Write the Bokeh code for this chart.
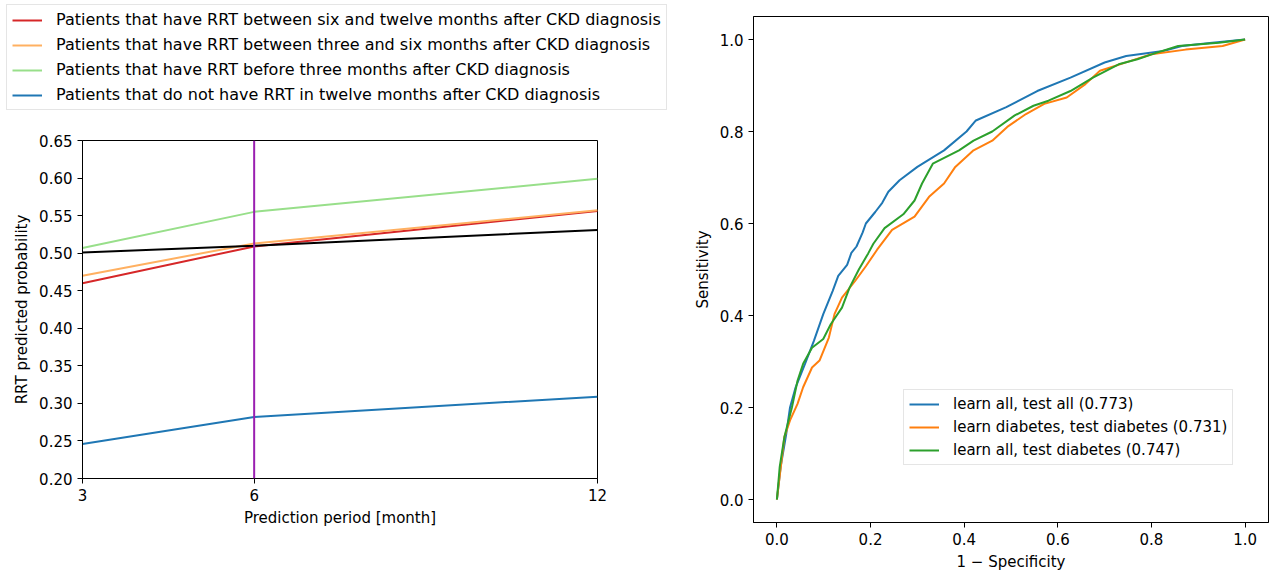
from bokeh.plotting import figure
from bokeh.layouts import row, column
from bokeh.models import Legend, LegendItem, FixedTicker, Span, Range1d, CustomJSTickFormatter
from bokeh.embed import file_html
from bokeh.resources import INLINE

# ---------------- data: left panel ----------------
months = [3, 6, 12]
rrt_6_12 = [0.460, 0.509, 0.556]
rrt_3_6 = [0.470, 0.513, 0.557]
rrt_0_3 = [0.507, 0.555, 0.599]
no_rrt = [0.246, 0.282, 0.309]
threshold = [0.501, 0.510, 0.531]
highlight_month = 6
left_series_labels = [
    "Patients that have RRT between six and twelve months after CKD diagnosis",
    "Patients that have RRT between three and six months after CKD diagnosis",
    "Patients that have RRT before three months after CKD diagnosis",
    "Patients that do not have RRT in twelve months after CKD diagnosis",
]
left_yticks = [0.20, 0.25, 0.30, 0.35, 0.40, 0.45, 0.50, 0.55, 0.60, 0.65]

# ---------------- data: right panel (ROC) ----------------
fpr_all_all = [0, 0.008, 0.02, 0.028, 0.04, 0.06, 0.079, 0.099, 0.119, 0.131, 0.15, 0.159, 0.17,
               0.183, 0.19, 0.21, 0.225, 0.238, 0.262, 0.30, 0.357, 0.405, 0.425, 0.49, 0.556,
               0.627, 0.70, 0.746, 0.825, 0.865, 0.93, 1.0]
tpr_all_all = [0, 0.071, 0.143, 0.2, 0.244, 0.295, 0.345, 0.403, 0.453, 0.486, 0.51, 0.536, 0.55,
               0.58, 0.6, 0.625, 0.645, 0.669, 0.694, 0.723, 0.759, 0.8, 0.824, 0.853, 0.888,
               0.917, 0.95, 0.964, 0.975, 0.986, 0.993, 1.0]
fpr_dia_dia = [0, 0.016, 0.028, 0.044, 0.056, 0.075, 0.091, 0.111, 0.123, 0.139, 0.167, 0.19,
               0.214, 0.246, 0.294, 0.325, 0.357, 0.381, 0.42, 0.46, 0.492, 0.532, 0.571, 0.619,
               0.659, 0.69, 0.754, 0.80, 0.873, 0.952, 1.0]
tpr_dia_dia = [0, 0.136, 0.172, 0.208, 0.244, 0.287, 0.302, 0.352, 0.403, 0.439, 0.475, 0.507,
               0.543, 0.586, 0.615, 0.658, 0.687, 0.723, 0.759, 0.78, 0.81, 0.838, 0.86, 0.874,
               0.903, 0.932, 0.953, 0.968, 0.978, 0.986, 1.0]
fpr_all_dia = [0, 0.006, 0.016, 0.032, 0.044, 0.056, 0.075, 0.099, 0.115, 0.139, 0.155, 0.175,
               0.195, 0.206, 0.23, 0.27, 0.294, 0.31, 0.333, 0.389, 0.42, 0.46, 0.508, 0.548,
               0.58, 0.627, 0.675, 0.73, 0.77, 0.81, 0.857, 0.944, 1.0]
tpr_all_dia = [0, 0.071, 0.136, 0.2, 0.258, 0.295, 0.33, 0.349, 0.381, 0.417, 0.46, 0.5,
               0.535, 0.556, 0.59, 0.62, 0.65, 0.687, 0.73, 0.759, 0.78, 0.8, 0.835, 0.856,
               0.867, 0.888, 0.917, 0.946, 0.957, 0.971, 0.986, 0.993, 1.0]
roc_labels = [
    "learn all, test all (0.773)",
    "learn diabetes, test diabetes (0.731)",
    "learn all, test diabetes (0.747)",
]
roc_ticks = [0.0, 0.2, 0.4, 0.6, 0.8, 1.0]

FONT = "DejaVu Sans"
FS = "15px"


def style_axes(p):
    for ax in (p.xaxis, p.yaxis):
        ax.major_label_text_font = FONT
        ax.major_label_text_font_size = FS
        ax.major_label_text_color = "#000000"
        ax.axis_label_text_font = FONT
        ax.axis_label_text_font_size = FS
        ax.axis_label_text_font_style = "normal"
        ax.axis_label_text_color = "#000000"
        ax.axis_line_color = "#000000"
        ax.major_tick_line_color = "#000000"
        ax.major_tick_out = 5
        ax.major_tick_in = 0
        ax.minor_tick_line_color = None
    p.xgrid.visible = False
    p.ygrid.visible = False
    p.outline_line_color = "#000000"
    p.outline_line_width = 1


def style_legend(lg, fs):
    lg.label_text_font = FONT
    lg.label_text_font_size = fs
    lg.label_text_color = "#000000"
    lg.glyph_width = 30
    lg.glyph_height = 18
    lg.label_standoff = 14
    lg.label_height = 18
    lg.margin = 0
    lg.border_line_color = "#cccccc"
    lg.background_fill_alpha = 1.0


colors_left = ["#d62728", "#ffb061", "#98df8a", "#1f77b4"]
series_left = [rrt_6_12, rrt_3_6, rrt_0_3, no_rrt]

# ---------------- legend strip above the left plot ----------------
legfig = figure(width=690, height=125, output_backend="svg", toolbar_location=None,
                x_range=Range1d(3, 12), y_range=Range1d(0.2, 0.65),
                x_axis_location=None, y_axis_location=None,
                min_border_left=0, min_border_right=0, min_border_top=0, min_border_bottom=0)
legfig.xgrid.visible = False
legfig.ygrid.visible = False
legfig.outline_line_color = None
items = []
for lab, ys, c in zip(left_series_labels, series_left, colors_left):
    r = legfig.line(months, ys, line_color=c, line_width=2, visible=False)
    items.append(LegendItem(label=lab, renderers=[r]))
leg = Legend(items=items, location=(6, 15), orientation="vertical")
style_legend(leg, "16px")
leg.spacing = 6
leg.padding = 5
legfig.add_layout(leg, "center")

# ---------------- left figure ----------------
left = figure(width=690, height=448, output_backend="svg", toolbar_location=None,
              x_range=Range1d(3, 12), y_range=Range1d(0.2, 0.65),
              min_border_left=82, min_border_right=93, min_border_top=15, min_border_bottom=95)
style_axes(left)
left.xaxis.ticker = FixedTicker(ticks=months)
left.yaxis.ticker = FixedTicker(ticks=left_yticks)
left.yaxis.formatter = CustomJSTickFormatter(code="return tick.toFixed(2);")
left.xaxis.axis_label = "Prediction period [month]"
left.yaxis.axis_label = "RRT predicted probability"
for ys, c in zip(series_left, colors_left):
    left.line(months, ys, line_color=c, line_width=2)
left.line(months, threshold, line_color="#000000", line_width=2)
left.add_layout(Span(location=highlight_month, dimension="height", line_color="#9a1fb0", line_width=2))

# ---------------- right figure ----------------
right = figure(width=588, height=573, output_backend="svg", toolbar_location=None,
               x_range=Range1d(-0.05, 1.05), y_range=Range1d(-0.05, 1.05),
               min_border_left=60, min_border_right=10, min_border_top=16, min_border_bottom=51)
style_axes(right)
right.xaxis.ticker = FixedTicker(ticks=roc_ticks)
right.yaxis.ticker = FixedTicker(ticks=roc_ticks)
right.xaxis.formatter = CustomJSTickFormatter(code="return tick.toFixed(1);")
right.yaxis.formatter = CustomJSTickFormatter(code="return tick.toFixed(1);")
right.xaxis.axis_label = "1 \u2212 Specificity"
right.yaxis.axis_label = "Sensitivity"

roc_series = [(fpr_all_all, tpr_all_all, "#1f77b4"),
              (fpr_dia_dia, tpr_dia_dia, "#ff7f0e"),
              (fpr_all_dia, tpr_all_dia, "#2ca02c")]
ritems = []
for lab, (xs, ys, c) in zip(roc_labels, roc_series):
    r = right.line(xs, ys, line_color=c, line_width=2)
    ritems.append(LegendItem(label=lab, renderers=[r]))
rleg = Legend(items=ritems, location=(150, 57))
style_legend(rleg, "15px")
rleg.spacing = 5
rleg.padding = 5
right.add_layout(rleg, "center")

layout = row(column(row(legfig), left), right)
open("out.html", "w").write(file_html(layout, INLINE))
